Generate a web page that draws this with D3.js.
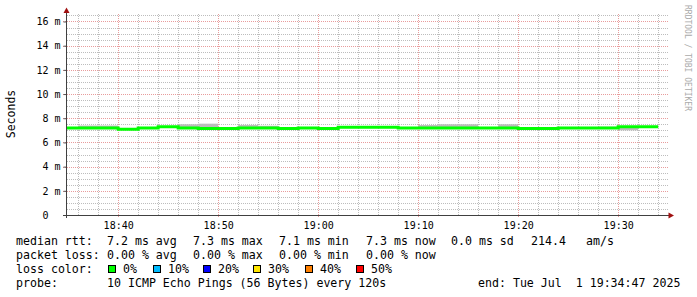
<!DOCTYPE html>
<html>
<head>
<meta charset="utf-8">
<script src="https://cdn.jsdelivr.net/npm/d3@7"></script>
<style>
  body { margin: 0; background: #fff; }
  svg { display: block; font-family: "DejaVu Sans Mono", monospace; }
  text { white-space: pre; }
</style>
</head>
<body>
<svg width="697" height="297" xml:space="preserve"></svg>
<script>
// 2 minute steps (start of each step)
const slots = ["18:34","18:36","18:38","18:40","18:42","18:44","18:46","18:48","18:50","18:52",
               "18:54","18:56","18:58","19:00","19:02","19:04","19:06","19:08","19:10","19:12",
               "19:14","19:16","19:18","19:20","19:22","19:24","19:26","19:28","19:30","19:32"];
const median = [7.2,7.2,7.2,7.1,7.2,7.3,7.2,7.15,7.15,7.2,
                7.2,7.15,7.2,7.15,7.25,7.25,7.25,7.2,7.2,7.2,
                7.2,7.2,7.2,7.15,7.15,7.2,7.2,7.2,7.3,7.3];
const smokeHi = [7.25,7.4,7.4,7.15,7.25,7.35,7.5,7.55,7.2,7.45,
                 7.38,7.2,7.25,7.2,7.3,7.3,7.3,7.25,7.44,7.5,
                 7.5,7.25,7.5,7.2,7.2,7.25,7.25,7.3,7.32,7.32];
const smokeLo = [7.15,7.15,7.15,7.05,7.15,7.2,7.15,7.1,7.1,7.15,
                 7.15,7.1,7.15,7.1,7.2,7.2,7.2,7.15,7.15,7.15,
                 7.15,7.15,7.15,7.1,7.1,7.15,7.15,7.15,7.0,7.2];
const lastSlotEnd = "19:34";
const startTime = "18:34:47", endTime = "19:34:47";

const xMajor = ["18:40","18:50","19:00","19:10","19:20","19:30"];
const yMajor = [0,2,4,6,8,10,12,14,16];

const lossLabels = ["0%","10%","20%","30%","40%","50%"];
const lossColors = ["#00ff00","#00bbff","#0000ff","#ffe600","#ff8000","#ff0000"];
const lossBoxX = [108,153,203,253,305,356];

const legendRtt = [["7.2 ms avg",107],["7.3 ms max",193],["7.1 ms min",279],["7.3 ms now",366],
                   ["0.0 ms sd",451],["214.4",531],["am/s",586]];
const legendLoss = [["0.00 % avg",107],["0.00 % max",193],["0.00 % min",279],["0.00 % now",366]];

const svg = d3.select('svg');
const hm = d3.timeParse('%H:%M');
const hms = d3.timeParse('%H:%M:%S');

const x = d3.scaleTime().domain([hms(startTime), hms(endTime)]).range([66, 666]);
const y = d3.scaleLinear().domain([0, 16.62]).range([215, 14]);
const X0 = 66.5, Y0 = 215.5;

svg.append('clipPath').attr('id', 'plot')
  .append('rect').attr('x', 67).attr('y', 14).attr('width', 600).attr('height', 201);

// grid
const g = svg.append('g');
const minorY = d3.range(1, 34).map(i => i * 0.5).filter(v => v % 2 !== 0);
const majorY = yMajor.filter(v => v > 0);
const minorX = d3.range(0, 30).map(i => d3.timeMinute.offset(hm("18:36"), i * 2))
  .filter(t => t.getMinutes() % 10 !== 0);

g.selectAll('line.hmin').data(minorY).enter().append('line').attr('class', 'hmin')
  .attr('x1', 67).attr('x2', 669)
  .attr('y1', d => Math.round(y(d)) + 0.5).attr('y2', d => Math.round(y(d)) + 0.5);
g.selectAll('line.vmin').data(minorX).enter().append('line').attr('class', 'vmin')
  .attr('y1', 14).attr('y2', 215)
  .attr('x1', d => Math.round(x(d)) + 0.5).attr('x2', d => Math.round(x(d)) + 0.5);
g.selectAll('line.hmin, line.vmin')
  .attr('stroke', '#bdbdbd').attr('stroke-dasharray', '1,1');
g.selectAll('line.hmaj').data(majorY).enter().append('line').attr('class', 'hmaj')
  .attr('x1', 63).attr('x2', 669)
  .attr('y1', d => Math.round(y(d)) + 0.5).attr('y2', d => Math.round(y(d)) + 0.5);
g.selectAll('line.vmaj').data(xMajor.map(hm)).enter().append('line').attr('class', 'vmaj')
  .attr('y1', 14).attr('y2', 218)
  .attr('x1', d => Math.round(x(d)) + 0.5).attr('x2', d => Math.round(x(d)) + 0.5);
g.selectAll('line.hmaj, line.vmaj')
  .attr('stroke', '#e89c9c').attr('stroke-dasharray', '1,1');

// smoke
const plot = svg.append('g').attr('clip-path', 'url(#plot)');
const ends = slots.slice(1).concat([lastSlotEnd]);
plot.selectAll('rect.smoke').data(slots).enter().append('rect').attr('class', 'smoke')
  .attr('x', d => x(hm(d)))
  .attr('width', (d, i) => x(hm(ends[i])) - x(hm(d)))
  .attr('y', (d, i) => y(smokeHi[i]))
  .attr('height', (d, i) => y(smokeLo[i]) - y(smokeHi[i]))
  .attr('fill', '#bcbcbc');

// median line
const pts = slots.map((s, i) => [hm(s), median[i]]);
pts.push([hm(lastSlotEnd), median[median.length - 1]]);
plot.append('path').datum(pts)
  .attr('d', d3.line().x(d => x(d[0])).y(d => y(d[1])).curve(d3.curveStepAfter))
  .attr('fill', 'none').attr('stroke', lossColors[0]).attr('stroke-width', 3);

// axes
const yAxis = svg.append('g').attr('transform', `translate(${X0},0)`)
  .call(d3.axisLeft(y).tickValues(yMajor).tickSize(3).tickPadding(3)
    .tickFormat(d => d === 0 ? '0  ' : d + ' m'));
const xAxis = svg.append('g').attr('transform', `translate(0,${Y0})`)
  .call(d3.axisBottom(x).tickValues(xMajor.map(hm)).tickSize(2).tickPadding(4)
    .tickFormat(d3.timeFormat('%H:%M')));
[yAxis, xAxis].forEach(a => {
  a.select('.domain').remove();
  a.selectAll('line').attr('stroke', '#555');
  a.selectAll('text').attr('font-family', '"DejaVu Sans Mono", monospace')
    .attr('font-size', 10).attr('fill', '#000');
});
xAxis.selectAll('line').remove();

svg.append('line').attr('x1', X0).attr('x2', X0).attr('y1', 12).attr('y2', 218)
  .attr('stroke', '#404040');
svg.append('line').attr('x1', 63).attr('x2', 669).attr('y1', Y0).attr('y2', Y0)
  .attr('stroke', '#404040');
svg.append('path').attr('d', `M63.5,13 L69.5,13 L66.5,7.5 Z`).attr('fill', '#a01010');
svg.append('path').attr('d', `M668.5,212.5 L668.5,218.5 L674,215.5 Z`).attr('fill', '#a01010');

// titles
svg.append('text').attr('transform', 'translate(14.5,114) rotate(-90)')
  .attr('text-anchor', 'middle').attr('font-size', 11.5).text('Seconds');
svg.append('text').attr('transform', 'translate(685,5) rotate(90)')
  .attr('font-size', 8).attr('fill', '#aaaaaa').text('RRDTOOL / TOBI OETIKER');

// legend
const fs = 11.6;
const rows = [245, 259, 273, 287];
const leg = svg.append('g').attr('font-size', fs).attr('fill', '#000');
leg.append('text').attr('x', 16).attr('y', rows[0]).text('median rtt:');
leg.selectAll('text.rtt').data(legendRtt).enter().append('text').attr('class', 'rtt')
  .attr('x', d => d[1]).attr('y', rows[0]).text(d => d[0]);
leg.append('text').attr('x', 16).attr('y', rows[1]).text('packet loss:');
leg.selectAll('text.loss').data(legendLoss).enter().append('text').attr('class', 'loss')
  .attr('x', d => d[1]).attr('y', rows[1]).text(d => d[0]);
leg.append('text').attr('x', 16).attr('y', rows[2]).text('loss color:');
leg.selectAll('rect.box').data(lossLabels).enter().append('rect').attr('class', 'box')
  .attr('x', (d, i) => lossBoxX[i] + 0.5).attr('y', 265.5).attr('width', 7).attr('height', 7)
  .attr('fill', (d, i) => lossColors[i]).attr('stroke', '#000');
leg.selectAll('text.boxlab').data(lossLabels).enter().append('text').attr('class', 'boxlab')
  .attr('x', (d, i) => lossBoxX[i] + 15)
  .attr('y', rows[2]).text(d => d);
leg.append('text').attr('x', 16).attr('y', rows[3]).text('probe:');
leg.append('text').attr('x', 107).attr('y', rows[3]).text('10 ICMP Echo Pings (56 Bytes) every 120s');
leg.append('text').attr('x', 478).attr('y', rows[3]).text('end: Tue Jul  1 19:34:47 2025');
</script>
</body>
</html>
